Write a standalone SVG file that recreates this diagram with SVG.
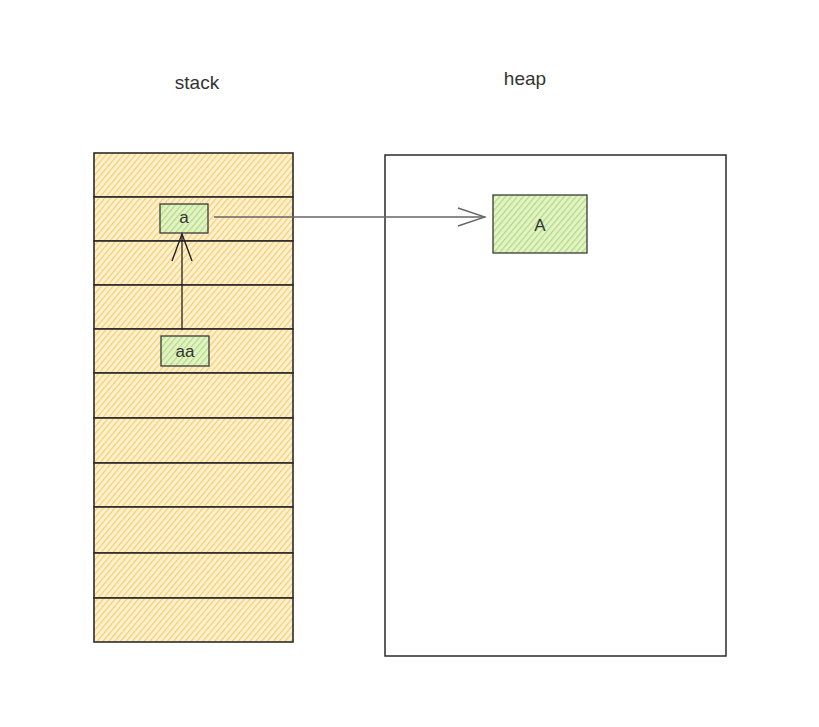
<svg xmlns="http://www.w3.org/2000/svg" width="819" height="727" viewBox="0 0 819 727">
<defs>
<pattern id="hy" patternUnits="userSpaceOnUse" width="4.5" height="4.5" patternTransform="rotate(40)">
<rect width="4.5" height="4.5" fill="#fdf1d2"/>
<line x1="0" y1="0" x2="0" y2="4.5" stroke="#f8cd66" stroke-width="2.4"/>
</pattern>
<pattern id="hg" patternUnits="userSpaceOnUse" width="4.5" height="4.5" patternTransform="rotate(40)">
<rect width="4.5" height="4.5" fill="#e2f3c8"/>
<line x1="0" y1="0" x2="0" y2="4.5" stroke="#b3da7a" stroke-width="2.4"/>
</pattern>
<marker id="ahd" viewBox="0 0 30 30" refX="28" refY="15" markerWidth="30" markerHeight="30" markerUnits="userSpaceOnUse" orient="auto">
<path d="M1,5 L28,15 L1,25" fill="none" stroke="#222" stroke-width="1.4"/>
</marker>
<marker id="ahg" viewBox="0 0 30 30" refX="28" refY="15" markerWidth="30" markerHeight="30" markerUnits="userSpaceOnUse" orient="auto">
<path d="M1,6 L28,15 L1,24" fill="none" stroke="#666" stroke-width="1.4"/>
</marker>
<style>
.cell{fill:url(#hy);stroke:#2b2b2b;stroke-width:1.6}
.box{fill:url(#hg);stroke:#3a3a3a;stroke-width:1.3}
.lbl{font-family:"Liberation Sans",Arial,sans-serif;fill:#333;text-anchor:middle}
.conn{fill:none;stroke-width:1.3}
</style>
</defs>
<rect width="819" height="727" fill="#fff"/>
<text class="lbl" x="197" y="89" font-size="19">stack</text>
<text class="lbl" x="525" y="85" font-size="19">heap</text>
<g id="stack">
<rect class="cell" x="94" y="153" width="199" height="44"/>
<rect class="cell" x="94" y="197" width="199" height="44"/>
<rect class="cell" x="94" y="241" width="199" height="44"/>
<rect class="cell" x="94" y="285" width="199" height="44"/>
<rect class="cell" x="94" y="329" width="199" height="44"/>
<rect class="cell" x="94" y="373" width="199" height="45"/>
<rect class="cell" x="94" y="418" width="199" height="45"/>
<rect class="cell" x="94" y="463" width="199" height="44"/>
<rect class="cell" x="94" y="507" width="199" height="46"/>
<rect class="cell" x="94" y="553" width="199" height="45"/>
<rect class="cell" x="94" y="598" width="199" height="44"/>
</g>
<g id="heap">
<rect x="385" y="155" width="341" height="501" fill="none" stroke="#2b2b2b" stroke-width="1.5"/>
</g>
<g id="node-a">
<rect class="box" x="160" y="204" width="48" height="29"/>
<text class="lbl" x="184" y="223" font-size="17">a</text>
</g>
<g id="node-aa">
<rect class="box" x="161" y="336" width="48" height="30"/>
<text class="lbl" x="185" y="357" font-size="17">aa</text>
</g>
<g id="node-A">
<rect class="box" x="493" y="195" width="94" height="58"/>
<text class="lbl" x="540" y="231" font-size="17">A</text>
</g>
<g id="connectors">
<path class="conn" d="M182,330 L182,234" style="stroke:#222" marker-end="url(#ahd)"/>
<path class="conn" d="M214,217 L485,217" style="stroke:#666" marker-end="url(#ahg)"/>
</g>
</svg>
